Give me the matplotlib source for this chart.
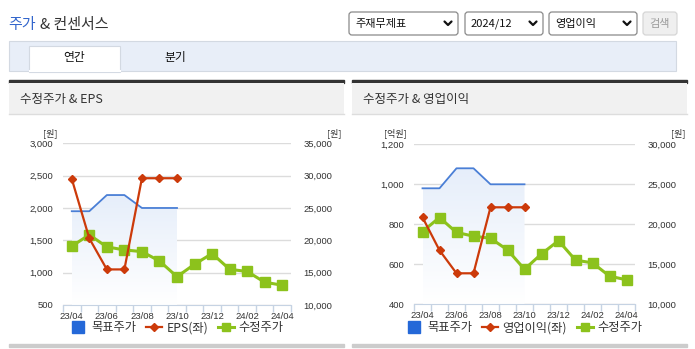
import numpy as np
import matplotlib
matplotlib.use('Agg')
import matplotlib.pyplot as plt
from matplotlib.patches import Rectangle, FancyBboxPatch
from matplotlib.lines import Line2D

KR = ['Noto Sans CJK KR', 'DejaVu Sans']
NUM = ['Liberation Sans', 'DejaVu Sans']
plt.rcParams['font.family'] = KR

# monthly series, 23/04 .. 24/04
months = ['23/04', '23/05', '23/06', '23/07', '23/08', '23/09', '23/10',
          '23/11', '23/12', '24/01', '24/02', '24/03', '24/04']
adj_price = [19100, 20850, 18980, 18520, 18250, 16800, 14380,
             16300, 17950, 15520, 15180, 13520, 13060]
target_price = [24500, 24500, 27000, 27000, 25000, 25000, 25000]
eps = [2450, 1530, 1050, 1050, 2460, 2460, 2460]
op_income = [835, 670, 555, 555, 885, 885, 885]

BLUE = '#4a7fd6'
BLUE_SQ = '#2468d8'
RED = '#cc3a0a'
GREEN = '#8cc21c'
AXIS = '#c6d3e3'
GRID = '#dcdcdc'
TXT = '#333333'

W, H = 695, 349
fig = plt.figure(figsize=(W / 100, H / 100), dpi=100)


def box(x0, y0, x1, y1):
    return [x0 / W, 1 - y1 / H, (x1 - x0) / W, (y1 - y0) / H]


bg = fig.add_axes([0, 0, 1, 1])
bg.set_xlim(0, W)
bg.set_ylim(H, 0)
bg.axis('off')

# page header
t1 = bg.text(8, 25, '주가', color='#3366cc', fontsize=10.8, va='center')
fig.canvas.draw()
bb = t1.get_window_extent()
bg.text(8 + bb.width + 5, 25, '& 컨센서스', color=TXT, fontsize=10.8, va='center')


def chevron(x, y):
    bg.plot([x - 3.5, x, x + 3.5], [y - 2, y + 1.5, y - 2], color='#111111', lw=1.6,
            solid_capstyle='round', solid_joinstyle='round')


for x0, x1, label in [(349, 458, '주재무제표'), (465, 543, '2024/12'), (549, 637, '영업이익')]:
    bg.add_patch(FancyBboxPatch((x0, 12), x1 - x0, 23, boxstyle='round,pad=0,rounding_size=3',
                                facecolor='white', edgecolor='#8a8a8a', lw=0.9))
    bg.text(x0 + 6, 23.5, label, fontsize=8, color='#111111', va='center')
    chevron(x1 - 10, 23.5)
bg.add_patch(FancyBboxPatch((643, 12), 34, 23, boxstyle='round,pad=0,rounding_size=3',
                            facecolor='#efefef', edgecolor='#d6d6d6', lw=0.9))
bg.text(660, 23.5, '검색', fontsize=8, color='#9a9a9a', va='center', ha='center')

# tab bar
bg.add_patch(Rectangle((9, 41), 667, 30, facecolor='#e8eef8', edgecolor='#d3d9e2', lw=0.8))
bg.add_patch(Rectangle((29, 46), 91, 25.5, facecolor='white', edgecolor='#d3d9e2', lw=0.8))
bg.plot([29.5, 119.5], [71, 71], color='white', lw=1.5)
bg.text(74.5, 57.5, '연간', fontsize=8.5, color='#111111', ha='center', va='center')
bg.text(175, 57.5, '분기', fontsize=8.5, color='#111111', ha='center', va='center')


def panel(px0, px1, title, plot_box, left_vals, left_name, left_lim, left_step,
          left_unit, right_lim, unit_x):
    # panel frame
    bg.add_patch(Rectangle((px0, 80), px1 - px0, 2.5, color='#333333'))
    bg.add_patch(Rectangle((px0, 82.5), px1 - px0, 31, facecolor='#f1f1f1', edgecolor='none'))
    bg.plot([px0, px1], [113.5, 113.5], color='#dddddd', lw=1)
    bg.text(px0 + 11, 99, title, fontsize=9, color=TXT, va='center')
    bg.add_patch(Rectangle((px0, 344), px1 - px0, 3, color='#cccccc'))

    x = np.arange(len(months))
    xt = np.arange(len(target_price))

    # price axis (right) sits underneath so the left-axis line draws on top
    axp = fig.add_axes(box(*plot_box))
    axl = axp.twinx()
    axp.patch.set_alpha(0)
    axp.set_ylim(*right_lim)
    axl.set_ylim(*left_lim)
    axp.yaxis.tick_right()
    axl.yaxis.tick_left()

    # target price area with vertical gradient
    poly = axp.fill_between(xt, target_price, right_lim[0], color='none', lw=0)
    grad = np.linspace(0, 1, 100).reshape(-1, 1)
    cmap = matplotlib.colors.LinearSegmentedColormap.from_list('g', ['#ffffff', '#e6eefa'])
    im = axp.imshow(grad, cmap=cmap, aspect='auto', origin='lower',
                    extent=[xt[0], xt[-1], right_lim[0], max(target_price)], zorder=1)
    im.set_clip_path(poly.get_paths()[0], transform=axp.transData)
    axp.set_xlim(-0.5, len(months) - 0.5)
    axp.set_ylim(*right_lim)

    axp.plot(xt, target_price, color=BLUE, lw=1.3, zorder=3)
    axp.plot(x, adj_price, color=GREEN, lw=2.2, marker='s', ms=6.5, zorder=4,
             solid_joinstyle='round')
    axl.plot(xt, left_vals, color=RED, lw=1.6, marker='D', ms=4.2, zorder=5,
             solid_joinstyle='round')

    # grid / spines
    axp.set_yticks(np.arange(right_lim[0], right_lim[1] + 1, 5000))
    axl.set_yticks(np.arange(left_lim[0], left_lim[1] + 1, left_step))
    axp.set_axisbelow(True)
    axp.grid(axis='y', color=GRID, lw=1)
    for a in (axp, axl):
        for s in a.spines.values():
            s.set_visible(False)
    axp.spines['bottom'].set_visible(True)
    axp.spines['bottom'].set_color(AXIS)
    axp.spines['bottom'].set_zorder(6)

    axp.set_xticks(x[::2])
    axp.set_xticklabels(months[::2])
    axp.set_xticks(np.arange(-0.5, len(months), 1), minor=True)
    axp.tick_params(axis='x', which='major', length=0, pad=5, labelsize=6.8, labelcolor=TXT)
    axp.tick_params(axis='x', which='minor', length=5, color=AXIS, width=1)
    axp.tick_params(axis='y', length=0, pad=9, labelsize=6.8, labelcolor=TXT)
    axl.tick_params(axis='y', length=0, pad=7, labelsize=6.8, labelcolor=TXT)
    axp.yaxis.set_major_formatter(matplotlib.ticker.StrMethodFormatter('{x:,.0f}'))
    axl.yaxis.set_major_formatter(matplotlib.ticker.StrMethodFormatter('{x:,.0f}'))
    for lab in axp.get_xticklabels() + axp.get_yticklabels() + axl.get_yticklabels():
        lab.set_family(NUM)

    # axis units
    bg.text(unit_x[0], 133, left_unit, fontsize=6.5, color=TXT, ha='right', va='center')
    bg.text(unit_x[1], 133, '[원]', fontsize=6.5, color=TXT, ha='right', va='center')

    handles = [
        Line2D([], [], ls='none', marker='s', ms=9, color=BLUE_SQ),
        Line2D([], [], color=RED, lw=1.6, marker='D', ms=4),
        Line2D([], [], color=GREEN, lw=2.2, marker='s', ms=6),
    ]
    cx = (plot_box[0] + plot_box[2]) / 2
    fig.legend(handles, ['목표주가', left_name, '수정주가'], ncol=3, frameon=False,
               loc='center', bbox_to_anchor=(cx / W, 1 - 328 / H), fontsize=8.8,
               handlelength=1.3, handletextpad=0.4, columnspacing=0.8, labelcolor=TXT)


panel(9, 344, '수정주가 & EPS', (63, 143.3, 291, 305), eps, 'EPS(좌)',
      (500, 3000), 500, '[원]', (10000, 35000), (57, 341))
panel(352, 687, '수정주가 & 영업이익', (414, 144.3, 635, 304.3), op_income, '영업이익(좌)',
      (400, 1200), 200, '[억원]', (10000, 30000), (407, 685))

fig.savefig('out.png', dpi=100)
